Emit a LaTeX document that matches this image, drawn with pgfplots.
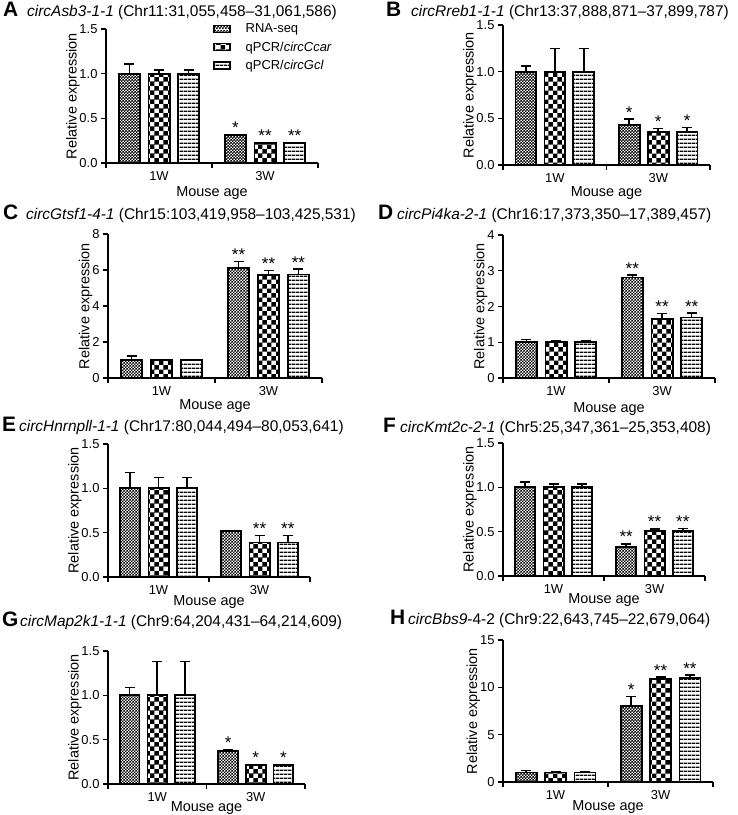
\documentclass[border=0pt]{standalone}
\usepackage{fontspec}
\setmainfont{Liberation Sans}
\usepackage{pgfplots}
\pgfplotsset{compat=1.18}
\usetikzlibrary{patterns}

% bar fills
\pgfdeclarepatternformonly{rnaseq}{\pgfpointorigin}{\pgfqpoint{3.4bp}{3.4bp}}{\pgfqpoint{3.4bp}{3.4bp}}{%
  \pgfpathrectangle{\pgfpointorigin}{\pgfqpoint{1.75bp}{1.75bp}}%
  \pgfpathrectangle{\pgfqpoint{1.7bp}{1.7bp}}{\pgfqpoint{1.75bp}{1.75bp}}%
  \pgfusepath{fill}}
\pgfdeclarepatternformonly{ccar}{\pgfpointorigin}{\pgfqpoint{9.4bp}{9.4bp}}{\pgfqpoint{9.4bp}{9.4bp}}{%
  \pgfpathrectangle{\pgfpointorigin}{\pgfqpoint{4.75bp}{4.75bp}}%
  \pgfpathrectangle{\pgfqpoint{4.7bp}{4.7bp}}{\pgfqpoint{4.75bp}{4.75bp}}%
  \pgfusepath{fill}}
\pgfdeclarepatternformonly{gcl}{\pgfpointorigin}{\pgfqpoint{4bp}{3.5bp}}{\pgfqpoint{4bp}{3.5bp}}{%
  \pgfpathrectangle{\pgfpointorigin}{\pgfqpoint{4.1bp}{1.6bp}}%
  \pgfusepath{fill}}

\newcommand\fs[1]{\fontsize{#1}{#1}\selectfont}
\newcommand\stars[3]{\node[anchor=south, inner sep=0.5bp, font=\fs{17}] at (axis cs:#1,#2) {#3};}

\pgfplotsset{
  panel/.style={
    scale only axis, ybar, anchor=south west,
    xmin=0, xmax=2, ymin=0,
    axis lines*=left, axis line style={line width=1.3bp},
    xtick={0.5,1.5}, xticklabels={1W,3W},
    minor xtick={0,1,2},
    major x tick style={draw=none},
    minor x tick style={line width=1.3bp, black},
    minor tick length=5bp, major tick length=5bp,
    tick align=outside,
    ytick style={line width=1.3bp, black},
    ticklabel style={font=\fs{13}},
    /pgf/number format/assume math mode=true,
    xlabel={Mouse age}, ylabel={Relative expression},
    label style={font=\fs{14.5}},
    xlabel shift=-2bp, ylabel shift=-7bp,
    bar width=0.2,
    clip=false,
    legend image code/.code={\draw[##1, line width=1.6bp] (0bp,-3.5bp) rectangle (16bp,3.5bp);},
  },
  dec/.style={yticklabel style={/pgf/number format/.cd, fixed, fixed zerofill, precision=1}},
  bars/.style={draw=black, line width=1.8bp,
    error bars/.cd, y dir=plus, y explicit,
    error bar style={line width=1.6bp, black},
    error mark options={rotate=90, line width=1.6bp, black, mark size=5bp}},
  s1/.style={pattern=rnaseq, bar shift=-0.28, bars},
  s2/.style={pattern=ccar, bar shift=0, bars},
  s3/.style={pattern=gcl, bar shift=0.28, bars},
}

\begin{document}
\begin{tikzpicture}[x=1bp, y=1bp]
\path[use as bounding box] (0,0) rectangle (738,815);

% ---- titles
\tikzset{lt/.style={anchor=base west, inner sep=0pt, font=\fs{21}\bfseries},
         tt/.style={anchor=base west, inner sep=0pt, font=\fs{15.5}}}
\node[lt] at (3,798) {A};   \node[tt] at (27,798) {\textit{circAsb3-1-1} (Chr11:31,055,458–31,061,586)};
\node[lt] at (386,798) {B}; \node[tt] at (411,798) {\textit{circRreb1-1-1} (Chr13:37,888,871–37,899,787)};
\node[lt] at (3,595) {C};   \node[tt] at (26,595) {\textit{circGtsf1-4-1} (Chr15:103,419,958–103,425,531)};
\node[lt] at (378,595) {D}; \node[tt] at (397,595) {\textit{circPi4ka-2-1} (Chr16:17,373,350–17,389,457)};
\node[lt] at (2,383) {E};   \node[tt] at (19,383) {\textit{circHnrnpll-1-1} (Chr17:80,044,494–80,053,641)};
\node[lt] at (383,382) {F}; \node[tt] at (400,382) {\textit{circKmt2c-2-1} (Chr5:25,347,361–25,353,408)};
\node[lt] at (2,188) {G};   \node[tt] at (20,188) {\textit{circMap2k1-1-1} (Chr9:64,204,431–64,214,609)};
\node[lt] at (390,190) {H}; \node[tt] at (408,190) {\textit{circBbs9}-4-2 (Chr9:22,643,745–22,679,064)};

% ---- A
\begin{axis}[panel, dec, at={(106bp,652bp)}, width=212bp, height=134bp,
  ymax=1.5, ytick={0,0.5,1,1.5}, xlabel shift=-1bp,
  legend style={draw=none, fill=none, at={(rel axis cs:0.49,1.07)}, anchor=north west,
    font=\fs{13}, row sep=3.5bp, column sep=13bp, legend cell align=left}]
\addplot[s1] coordinates {(0.5,1.0) +- (0,0.11) (1.5,0.31) +- (0,0.01)};
\addplot[s2] coordinates {(0.5,1.0) +- (0,0.04) (1.5,0.22) +- (0,0.01)};
\addplot[s3] coordinates {(0.5,1.0) +- (0,0.04) (1.5,0.22) +- (0,0.01)};
\legend{RNA-seq, qPCR/\textit{circCcar}, qPCR/\textit{circGcl}}
\stars{1.22}{0.32}{*}\stars{1.5}{0.23}{**}\stars{1.78}{0.23}{**}
\end{axis}

% ---- B
\begin{axis}[panel, dec, at={(503bp,650bp)}, width=207bp, height=140bp,
  ymax=1.5, ytick={0,0.5,1,1.5}, xlabel shift=-3bp]
\addplot[s1] coordinates {(0.5,1.0) +- (0,0.06) (1.5,0.43) +- (0,0.06)};
\addplot[s2] coordinates {(0.5,1.0) +- (0,0.25) (1.5,0.35) +- (0,0.04)};
\addplot[s3] coordinates {(0.5,1.0) +- (0,0.25) (1.5,0.35) +- (0,0.05)};
\stars{1.22}{0.49}{*}\stars{1.5}{0.39}{*}\stars{1.78}{0.40}{*}
\end{axis}

% ---- C
\begin{axis}[panel, at={(108bp,437bp)}, width=214bp, height=144bp,
  ymax=8, ytick={0,2,4,6,8}, xlabel shift=-3bp]
\addplot[s1] coordinates {(0.5,1.0) +- (0,0.23) (1.5,6.1) +- (0,0.37)};
\addplot[s2] coordinates {(0.5,1.0) +- (0,0.02) (1.5,5.7) +- (0,0.28)};
\addplot[s3] coordinates {(0.5,1.0) +- (0,0.02) (1.5,5.75) +- (0,0.30)};
\stars{1.22}{6.47}{**}\stars{1.5}{5.98}{**}\stars{1.78}{6.05}{**}
\end{axis}

% ---- D
\begin{axis}[panel, at={(503bp,437bp)}, width=212bp, height=143bp,
  ymax=4, ytick={0,1,2,3,4}, xlabel shift=0bp]
\addplot[s1] coordinates {(0.5,1.0) +- (0,0.08) (1.5,2.81) +- (0,0.07)};
\addplot[s2] coordinates {(0.5,1.0) +- (0,0.04) (1.5,1.66) +- (0,0.14)};
\addplot[s3] coordinates {(0.5,1.0) +- (0,0.03) (1.5,1.69) +- (0,0.13)};
\stars{1.22}{2.88}{**}\stars{1.5}{1.80}{**}\stars{1.78}{1.82}{**}
\end{axis}

% ---- E
\begin{axis}[panel, dec, at={(108bp,238bp)}, width=202bp, height=133bp,
  ymax=1.5, ytick={0,0.5,1,1.5}, xlabel shift=-6bp]
\addplot[s1] coordinates {(0.5,1.0) +- (0,0.18) (1.5,0.52) +- (0,0.005)};
\addplot[s2] coordinates {(0.5,1.0) +- (0,0.12) (1.5,0.39) +- (0,0.08)};
\addplot[s3] coordinates {(0.5,1.0) +- (0,0.12) (1.5,0.39) +- (0,0.08)};
\stars{1.5}{0.47}{**}\stars{1.78}{0.47}{**}
\end{axis}

% ---- F
\begin{axis}[panel, dec, at={(503bp,239bp)}, width=202bp, height=133bp,
  ymax=1.5, ytick={0,0.5,1,1.5}, xlabel shift=-7bp]
\addplot[s1] coordinates {(0.5,1.0) +- (0,0.06) (1.5,0.33) +- (0,0.03)};
\addplot[s2] coordinates {(0.5,1.0) +- (0,0.04) (1.5,0.51) +- (0,0.02)};
\addplot[s3] coordinates {(0.5,1.0) +- (0,0.04) (1.5,0.51) +- (0,0.025)};
\stars{1.22}{0.37}{**}\stars{1.5}{0.54}{**}\stars{1.78}{0.54}{**}
\end{axis}

% ---- G
\begin{axis}[panel, dec, at={(108bp,31bp)}, width=197bp, height=133bp,
  ymax=1.5, ytick={0,0.5,1,1.5}, xlabel shift=-7bp]
\addplot[s1] coordinates {(0.5,1.0) +- (0,0.09) (1.5,0.37) +- (0,0.015)};
\addplot[s2] coordinates {(0.5,1.0) +- (0,0.38) (1.5,0.21) +- (0,0.01)};
\addplot[s3] coordinates {(0.5,1.0) +- (0,0.38) (1.5,0.21) +- (0,0.01)};
\stars{1.22}{0.39}{*}\stars{1.5}{0.22}{*}\stars{1.78}{0.22}{*}
\end{axis}

% ---- H
\begin{axis}[panel, at={(503bp,33bp)}, width=210bp, height=142bp,
  ymax=15, ytick={0,5,10,15}, xlabel shift=-6bp]
\addplot[s1] coordinates {(0.5,1.0) +- (0,0.2) (1.5,8.0) +- (0,1.05)};
\addplot[s2] coordinates {(0.5,1.0) +- (0,0.1) (1.5,10.9) +- (0,0.2)};
\addplot[s3] coordinates {(0.5,1.0) +- (0,0.05) (1.5,11.0) +- (0,0.3)};
\stars{1.22}{9.05}{*}\stars{1.5}{11.1}{**}\stars{1.78}{11.3}{**}
\end{axis}
\end{tikzpicture}
\end{document}
